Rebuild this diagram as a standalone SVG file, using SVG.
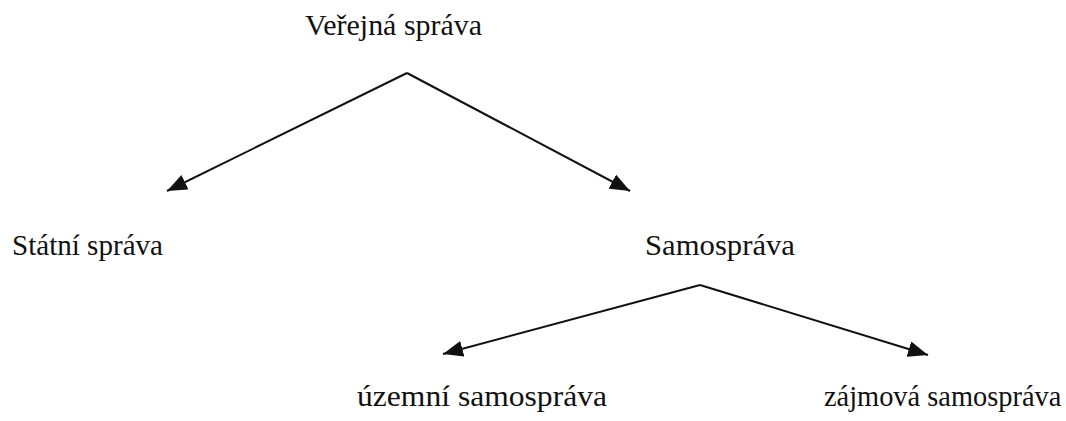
<svg xmlns="http://www.w3.org/2000/svg" width="1066" height="421" viewBox="0 0 1066 421">
<style>
text{font-family:"Liberation Serif","Times New Roman",serif;font-size:30px;fill:#111}
.c{stroke:#111;stroke-width:2;fill:none;marker-end:url(#ah)}
</style>
<defs>
<marker id="ah" markerUnits="userSpaceOnUse" markerWidth="22" markerHeight="16" refX="20" refY="8" orient="auto">
<path d="M0,0 L20,8 L0,16 Z" fill="#111"/>
</marker>
</defs>
<rect width="1066" height="421" fill="#fff"/>
<g id="connectors">
<path class="c" d="M407,73 L167,191"/>
<path class="c" d="M407,73 L630,191"/>
<path class="c" d="M700,285 L443,354"/>
<path class="c" d="M700,285 L928,355"/>
</g>
<g id="verejna"><text x="305" y="35" textLength="177" lengthAdjust="spacingAndGlyphs">Veřejná správa</text></g>
<g id="statni"><text x="12" y="255" textLength="151" lengthAdjust="spacingAndGlyphs">Státní správa</text></g>
<g id="samosprava"><text x="645" y="255" textLength="150" lengthAdjust="spacingAndGlyphs">Samospráva</text></g>
<g id="uzemni"><text x="357" y="406" textLength="250" lengthAdjust="spacingAndGlyphs">územní samospráva</text></g>
<g id="zajmova"><text x="824" y="406" style="font-size:28.4px">zájmová samospráva</text></g>
</svg>
